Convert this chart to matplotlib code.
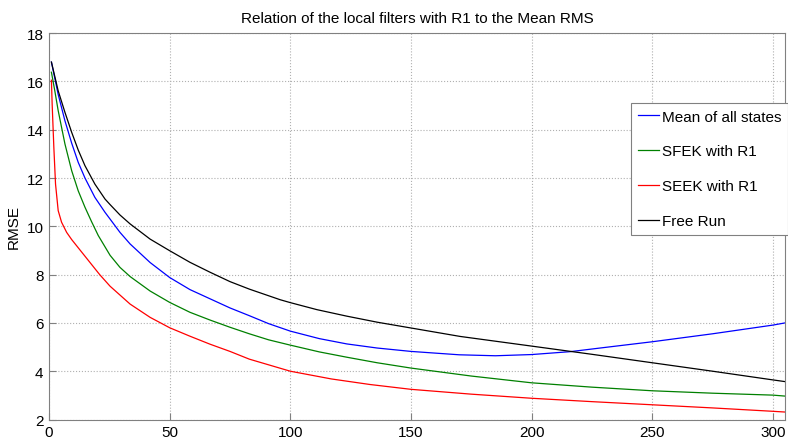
import matplotlib
matplotlib.use('Agg')
import matplotlib.pyplot as plt

plt.rcParams['font.family'] = ['Liberation Sans', 'DejaVu Sans']

# values
x_free = [1, 3.8, 6.6, 9.4, 12.1, 14.9, 19, 23.2, 25.3, 29.4, 33.6, 41.9, 50, 58.4, 66.7, 75, 83,
          95.8, 100, 111, 123.4, 136, 150, 170.4, 200, 225, 250, 275, 300, 305]
free_run = [16.8, 15.61, 14.72, 13.89, 13.16, 12.51, 11.75, 11.13, 10.9, 10.47, 10.1, 9.47, 8.99,
            8.51, 8.1, 7.71, 7.4, 6.96, 6.84, 6.55, 6.28, 6.03, 5.79, 5.44, 5.04, 4.7, 4.35, 4.0,
            3.64, 3.57]

x_mean = [1, 3.8, 6.6, 9.4, 12.1, 14.9, 19, 23.2, 25.3, 29.4, 33.6, 41.9, 50, 58.4, 66.7, 75, 83,
          91, 100, 112, 123.4, 136, 150, 170, 185, 200, 216, 230, 250, 275, 300, 305]
mean_all = [16.8, 15.46, 14.37, 13.44, 12.65, 12.0, 11.2, 10.58, 10.3, 9.75, 9.27, 8.5, 7.88,
            7.38, 7.0, 6.62, 6.3, 5.97, 5.66, 5.35, 5.13, 4.96, 4.82, 4.68, 4.64, 4.69, 4.81,
            4.98, 5.22, 5.55, 5.91, 6.0]

x_sfek = [1, 2.4, 3.8, 6.6, 9.4, 12.1, 14.9, 17.6, 20.4, 25.3, 29.4, 33.6, 41.9, 50, 58.4, 66.7,
          75, 83, 91, 100, 112, 123.4, 136, 150, 175, 200, 225, 250, 275, 300, 305]
sfek_r1 = [16.38, 15.61, 14.79, 13.41, 12.3, 11.47, 10.79, 10.2, 9.62, 8.8, 8.3, 7.92, 7.32,
           6.85, 6.44, 6.12, 5.82, 5.55, 5.3, 5.08, 4.8, 4.58, 4.35, 4.13, 3.8, 3.52, 3.34, 3.19,
           3.09, 3.01, 2.97]

x_seek = [1, 1.3, 2, 2.7, 3.8, 5.2, 7.3, 9.4, 13, 17, 21, 25.3, 33.6, 41.9, 50, 58.4, 66.7, 75,
          83, 100, 117, 133, 150, 175, 200, 225, 250, 275, 300, 305]
seek_r1 = [16.05, 15.06, 13.27, 11.75, 10.65, 10.17, 9.75, 9.45, 9.0, 8.5, 8.0, 7.52, 6.78, 6.23,
           5.8, 5.45, 5.12, 4.82, 4.5, 4.0, 3.68, 3.45, 3.25, 3.05, 2.88, 2.74, 2.61, 2.48, 2.34,
           2.31]

fig = plt.figure(figsize=(7.88, 4.39), dpi=100)
ax = fig.add_axes([0.0622, 0.0421, 0.9340, 0.8802])

ax.plot(x_mean, mean_all, color='#0000ff', lw=0.9, label='Mean of all states')
ax.plot(x_sfek, sfek_r1, color='#008000', lw=0.9, label='SFEK with R1')
ax.plot(x_seek, seek_r1, color='#ff0000', lw=0.9, label='SEEK with R1')
ax.plot(x_free, free_run, color='black', lw=0.9, label='Free Run')

ax.set_xlim(0, 305)
ax.set_ylim(2, 18)
ax.set_xticks(range(0, 301, 50))
ax.set_yticks(range(2, 19, 2))
ax.grid(True, ls=':', color='#b0b0b0', lw=0.8)
for s in ax.spines.values():
    s.set_color('#808080')
ax.tick_params(direction='in', length=5, color='#808080', labelsize=11, pad=4)

ax.set_title('Relation of the local filters with R1 to the Mean RMS', fontsize=11, pad=8)
ax.set_ylabel('RMSE', fontsize=11, labelpad=4)

leg = ax.legend(loc='upper right', bbox_to_anchor=(1.004, 0.82), fontsize=11, fancybox=False,
                framealpha=1, edgecolor='#808080', borderpad=0.45, labelspacing=1.37,
                handlelength=1.4, handletextpad=0.15, borderaxespad=0)
leg.get_frame().set_linewidth(0.8)

fig.savefig('out.png', dpi=100)
